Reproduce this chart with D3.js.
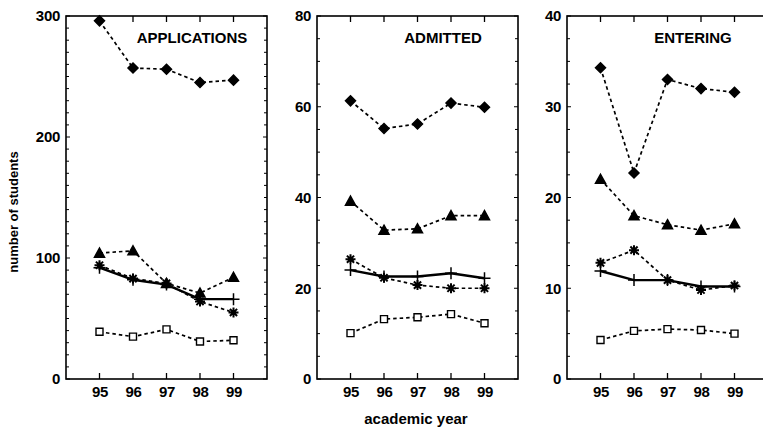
<!DOCTYPE html>
<html>
<head>
<meta charset="utf-8">
<script src="https://cdn.jsdelivr.net/npm/d3@7"></script>
<style>
body{margin:0;background:#fff;}
text{font-family:"Liberation Sans",Arial,sans-serif;fill:#000;font-weight:bold;}
</style>
</head>
<body>
<div class="canvas"></div>
<script>
// data
const years = [95, 96, 97, 98, 99];
const titles = ['APPLICATIONS', 'ADMITTED', 'ENTERING'];
const yMax = [300, 80, 40];
const yMajor = [100, 20, 10];
const yMinor = [10, 5, 2.5];

const appDiamond = [296, 257, 256, 245, 247];
const appTriangle = [104, 106, 79, 71, 84];
const appStar = [94, 83, 79, 64, 55];
const appPlus = [92, 82, 78, 66, 66];
const appSquare = [39, 35, 41, 31, 32];

const admDiamond = [61.3, 55.2, 56.2, 60.8, 59.9];
const admTriangle = [39.2, 32.8, 33.1, 36, 36];
const admStar = [26.4, 22.3, 20.7, 20, 20];
const admPlus = [24, 22.6, 22.6, 23.3, 22.2];
const admSquare = [10.1, 13.2, 13.6, 14.3, 12.3];

const entDiamond = [34.3, 22.7, 33, 32, 31.6];
const entTriangle = [22, 18, 17, 16.4, 17.1];
const entStar = [12.8, 14.2, 10.9, 9.8, 10.3];
const entPlus = [11.9, 10.9, 10.9, 10.2, 10.2];
const entSquare = [4.3, 5.3, 5.5, 5.4, 5.0];

const panelSeries = [
  [appDiamond, appTriangle, appStar, appPlus, appSquare],
  [admDiamond, admTriangle, admStar, admPlus, admSquare],
  [entDiamond, entTriangle, entStar, entPlus, entSquare]
];
const markers = ['diamond', 'triangle', 'star', 'plus', 'square'];

const svg = d3.select('.canvas')
  .append('svg')
  .attr('width', 763)
  .attr('height', 432);

const panelW = 201;
const panelLeft = [66, 317, 567];
const plotTop = 16, plotBottom = 379;

const markerPath = {
  diamond: 'M0,-5L5,0L0,5L-5,0Z',
  triangle: 'M0,-5L5,4L-5,4Z',
  star: 'M-5,0H5M0,-5V5M-3.6,-3.6L3.6,3.6M-3.6,3.6L3.6,-3.6',
  plus: 'M-6,0H6M0,-6V6',
  square: 'M-3.5,-3.5H3.5V3.5H-3.5Z'
};

panelSeries.forEach((series, p) => {
  const g = svg.append('g')
    .attr('transform', `translate(${panelLeft[p]},0)`);

  const x = d3.scaleLinear().domain([94, 100]).range([0, panelW]);
  const y = d3.scaleLinear().domain([0, yMax[p]]).range([plotBottom, plotTop]);

  const majors = d3.range(0, yMax[p] + 0.001, yMajor[p]);
  const minors = d3.range(0, yMax[p] + 0.001, yMinor[p]);

  // left axis
  const yAxis = d3.axisLeft(y).tickValues(majors).tickSize(0).tickPadding(6);
  const yg = g.append('g').call(yAxis);
  yg.select('.domain').remove();
  yg.selectAll('text')
    .style('font-size', '15px')
    .style('font-weight', 'bold')
    .attr('letter-spacing', '-0.3');

  // minor ticks, left and right
  g.append('g').selectAll('line.ml')
    .data(minors).enter().append('line')
    .attr('x1', 0).attr('x2', d => majors.includes(d) ? 4 : 3)
    .attr('y1', d => y(d)).attr('y2', d => y(d))
    .attr('stroke', '#000').attr('stroke-width', 1);
  g.append('g').selectAll('line.mr')
    .data(minors).enter().append('line')
    .attr('x1', panelW).attr('x2', d => panelW - (majors.includes(d) ? 4 : 3))
    .attr('y1', d => y(d)).attr('y2', d => y(d))
    .attr('stroke', '#000').attr('stroke-width', 1);

  // bottom axis
  const xAxis = d3.axisBottom(x).tickValues(years).tickSize(0).tickPadding(7)
    .tickFormat(d3.format('d'));
  const xg = g.append('g').attr('transform', `translate(0,${plotBottom})`).call(xAxis);
  xg.select('.domain').remove();
  xg.selectAll('text')
    .style('font-size', '15px')
    .style('font-weight', 'bold')
    .attr('letter-spacing', '-0.3');

  g.append('g').selectAll('line.tb')
    .data(years).enter().append('line')
    .attr('x1', d => x(d)).attr('x2', d => x(d))
    .attr('y1', plotBottom).attr('y2', plotBottom - 6)
    .attr('stroke', '#000').attr('stroke-width', 1.3);
  g.append('g').selectAll('line.tt')
    .data(years).enter().append('line')
    .attr('x1', d => x(d)).attr('x2', d => x(d))
    .attr('y1', plotTop).attr('y2', plotTop + 6)
    .attr('stroke', '#000').attr('stroke-width', 1.3);

  // frame
  g.append('rect')
    .attr('x', 0).attr('y', plotTop)
    .attr('width', panelW).attr('height', plotBottom - plotTop)
    .attr('fill', 'none').attr('stroke', '#000').attr('stroke-width', 1.6);

  // title
  g.append('text')
    .attr('x', 126).attr('y', 43)
    .attr('text-anchor', 'middle')
    .style('font-size', '15px')
    .text(titles[p]);

  // lines
  const line = d3.line().x((d, i) => x(years[i])).y(d => y(d));
  series.forEach((vals, s) => {
    const isPlus = markers[s] === 'plus';
    g.append('path')
      .datum(vals)
      .attr('d', line)
      .attr('fill', 'none')
      .attr('stroke', '#000')
      .attr('stroke-width', isPlus ? 2.4 : 1.7)
      .attr('stroke-dasharray', isPlus ? null : '3.5,3');
  });

  // markers
  series.forEach((vals, s) => {
    const m = markers[s];
    g.append('g').selectAll('path')
      .data(vals).enter().append('path')
      .attr('transform', (d, i) => `translate(${x(years[i])},${y(d)})`)
      .attr('d', markerPath[m])
      .attr('fill', m === 'square' ? '#fff' : (m === 'diamond' || m === 'triangle' ? '#000' : 'none'))
      .attr('stroke', '#000')
      .attr('stroke-width', m === 'square' ? 1.4 : (m === 'star' ? 2 : 1.5));
  });
});

// axis titles
svg.append('text')
  .attr('transform', 'translate(18,212) rotate(-90)')
  .attr('text-anchor', 'middle')
  .style('font-size', '13px')
  .text('number of students');

svg.append('text')
  .attr('x', 416).attr('y', 424)
  .attr('text-anchor', 'middle')
  .style('font-size', '15px')
  .text('academic year');
</script>
</body>
</html>
